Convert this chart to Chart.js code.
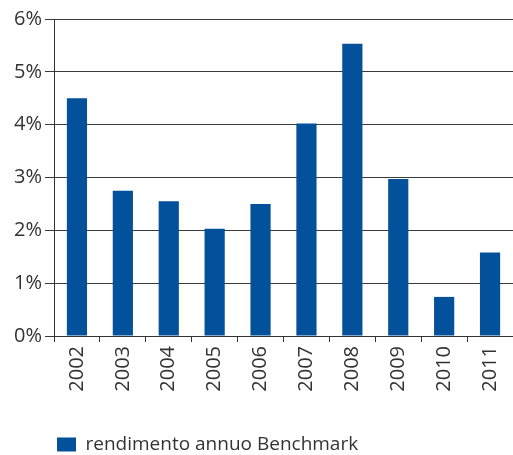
<!DOCTYPE html>
<html>
<head>
<meta charset="utf-8">
<script src="https://cdn.jsdelivr.net/npm/chart.js@4"></script>
<style>
  html, body { margin: 0; padding: 0; background: #fff; }
  #wrap { width: 513px; height: 455px; }
</style>
</head>
<body>
<div id="wrap"><canvas id="chart" width="513" height="455"></canvas></div>
<script>
const years = ['2002', '2003', '2004', '2005', '2006', '2007', '2008', '2009', '2010', '2011'];
const rendimento = [4.5, 2.75, 2.55, 2.03, 2.5, 4.02, 5.53, 2.97, 0.74, 1.58];
const seriesLabel = 'rendimento annuo Benchmark';

// move the legend under the plot area, where the original has it
const legendShift = {
    id: 'legendShift',
    afterLayout(chart) {
        const lg = chart.legend;
        if (!lg) return;
        lg.left += 53;
        lg.top += 9;
        lg.bottom += 9;
        if (lg.legendHitBoxes) lg.legendHitBoxes.forEach(h => { h.left += 53; h.top += 9; });
    }
};

const ctx = document.getElementById('chart').getContext('2d');

new Chart(ctx, {
    type: 'bar',
    data: {
        labels: years,
        datasets: [{
            label: seriesLabel,
            data: rendimento,
            backgroundColor: '#03519b',
            borderWidth: 0,
            categoryPercentage: 1,
            barPercentage: 0.44
        }]
    },
    options: {
        responsive: false,
        animation: false,
        layout: { padding: { left: 0, top: 19, right: 0, bottom: 0 } },
        plugins: {
            tooltip: { enabled: false },
            legend: {
                position: 'bottom',
                align: 'start',
                labels: {
                    boxWidth: 19,
                    boxHeight: 14,
                    padding: 4,
                    color: '#333',
                    font: { family: 'Open Sans', size: 19 }
                }
            }
        },
        scales: {
            x: {
                grid: { offset: true, drawOnChartArea: false, tickLength: 6, color: '#333' },
                border: { display: true, color: '#333' },
                ticks: {
                    minRotation: 90, maxRotation: 90, padding: 4,
                    color: '#333', font: { family: 'Open Sans', size: 20 }
                },
                afterFit: (scale) => {
                    scale.height = 86;
                    scale.paddingLeft = 0;
                    scale.paddingRight = 0;
                }
            },
            y: {
                min: 0, max: 6,
                grid: { color: '#3a3a3a', tickLength: 9 },
                border: { display: true, color: '#333' },
                ticks: {
                    stepSize: 1, padding: 3,
                    color: '#333', font: { family: 'Open Sans', size: 20 },
                    callback: (v) => v + '%'
                },
                afterFit: (scale) => { scale.width = 54; }
            }
        }
    },
    plugins: [legendShift]
});
</script>
</body>
</html>
